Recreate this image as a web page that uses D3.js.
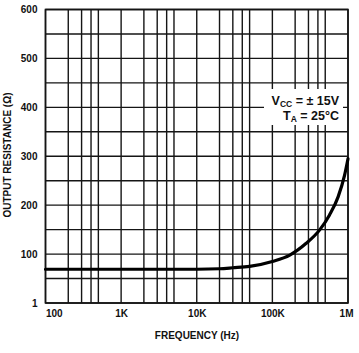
<!DOCTYPE html>
<html>
<head>
<meta charset="utf-8">
<script src="https://cdn.jsdelivr.net/npm/d3@7"></script>
<style>
html,body{margin:0;padding:0;background:#fff;}
svg{display:block;}
text{font-family:"Liberation Sans",Arial,Helvetica,sans-serif;fill:#111;}
</style>
</head>
<body>
<script>
// ---- data ----
const frequencies = [100, 1000, 10000, 20000, 30000, 50000, 100000, 170000, 280000, 420000, 570000, 740000, 900000, 1000000];
const resistance  = [69, 69, 69, 70, 72, 75, 85, 98, 122, 149, 180, 217, 261, 295];
const xMajorTicks = [100, 1000, 10000, 100000, 1000000];
const xTickLabels = ["100", "1K", "10K", "100K", "1M"];
const xMinorMultipliers = [2, 3, 4, 5];
const yTicks = [0, 100, 200, 300, 400, 500, 600];
const yTickLabels = ["1", "100", "200", "300", "400", "500", "600"];
const yGridStep = 50;
const annotationLines = [["V", "CC", " = ± 15V"], ["T", "A", " = 25°C"]];
const xTitle = "FREQUENCY (Hz)";
const yTitle = "OUTPUT RESISTANCE (Ω)";

// ---- layout ----
const W = 359, H = 353;
const m = {left: 45.5, right: 11, top: 9.5, bottom: 50};
const svg = d3.select("body").append("svg").attr("width", W).attr("height", H);

const x = d3.scaleLog().domain([100, 1e6]).range([m.left, W - m.right]);
const y = d3.scaleLinear().domain([0, 600]).range([H - m.bottom, m.top]);

const g = svg.append("g");
const stroke = "#151515";

// vertical grid
const minorX = [];
xMajorTicks.slice(0, -1).forEach(d => xMinorMultipliers.forEach(k => minorX.push(d * k)));
const vLines = xMajorTicks.concat(minorX);
g.selectAll("line.v").data(vLines).join("line")
  .attr("x1", d => x(d)).attr("x2", d => x(d))
  .attr("y1", y(600)).attr("y2", y(0))
  .attr("stroke", stroke).attr("stroke-width", 1.4);

// horizontal grid
const hLines = d3.range(0, 600 + 1, yGridStep);
g.selectAll("line.h").data(hLines).join("line")
  .attr("x1", x(100)).attr("x2", x(1e6))
  .attr("y1", d => y(d)).attr("y2", d => y(d))
  .attr("stroke", stroke).attr("stroke-width", 1.4);

// border
g.append("rect").attr("x", x(100)).attr("y", y(600))
  .attr("width", x(1e6) - x(100)).attr("height", y(0) - y(600))
  .attr("fill", "none").attr("stroke", stroke).attr("stroke-width", 1.6);

// annotation with white background
const ann = svg.append("g");
ann.append("rect").attr("x", 264).attr("y", 89).attr("width", 79).attr("height", 36).attr("fill", "#fff");
annotationLines.forEach((parts, i) => {
  const t = ann.append("text").attr("x", 339).attr("y", 104.5 + i * 15)
    .attr("text-anchor", "end").attr("font-size", 12.5).attr("font-weight", "bold");
  t.append("tspan").text(parts[0]);
  t.append("tspan").attr("font-size", 8.5).attr("dy", 2).text(parts[1]);
  t.append("tspan").attr("dy", -2).text(parts[2]);
});

// curve
const line = d3.line()
  .x((d, i) => x(frequencies[i]))
  .y(d => y(d))
  .curve(d3.curveMonotoneX);
svg.append("path").datum(resistance)
  .attr("d", line).attr("fill", "none")
  .attr("stroke", "#000").attr("stroke-width", 3.2).attr("stroke-linecap", "round");

// axes
const xAxis = d3.axisBottom(x).tickValues(xMajorTicks)
  .tickFormat((d, i) => xTickLabels[i]).tickSize(0).tickPadding(0);
const xa = svg.append("g").attr("transform", `translate(0,${y(0)})`).call(xAxis);
xa.select(".domain").remove();
xa.selectAll("text").attr("font-size", 10).attr("font-weight", "bold")
  .attr("font-family", "'Liberation Sans',Arial,sans-serif").attr("fill", "#111")
  .attr("dy", 0).attr("y", 14)
  .attr("text-anchor", (d, i) => i === 0 ? "start" : (i === xMajorTicks.length - 1 ? "end" : "middle"))
  .attr("dx", (d, i) => i === xMajorTicks.length - 1 ? 5 : 0);

const yAxis = d3.axisLeft(y).tickValues(yTicks)
  .tickFormat((d, i) => yTickLabels[i]).tickSize(0).tickPadding(8);
const ya = svg.append("g").attr("transform", `translate(${x(100)},0)`).call(yAxis);
ya.select(".domain").remove();
ya.selectAll("text").attr("font-size", 10).attr("font-weight", "bold")
  .attr("font-family", "'Liberation Sans',Arial,sans-serif").attr("fill", "#111");

// titles
svg.append("text").attr("x", 197).attr("y", 339).attr("text-anchor", "middle")
  .attr("font-size", 10).attr("font-weight", "bold").text(xTitle);
svg.append("text").attr("transform", "translate(11,155) rotate(-90)")
  .attr("text-anchor", "middle").attr("font-size", 10).attr("font-weight", "bold").text(yTitle);
</script>
</body>
</html>
